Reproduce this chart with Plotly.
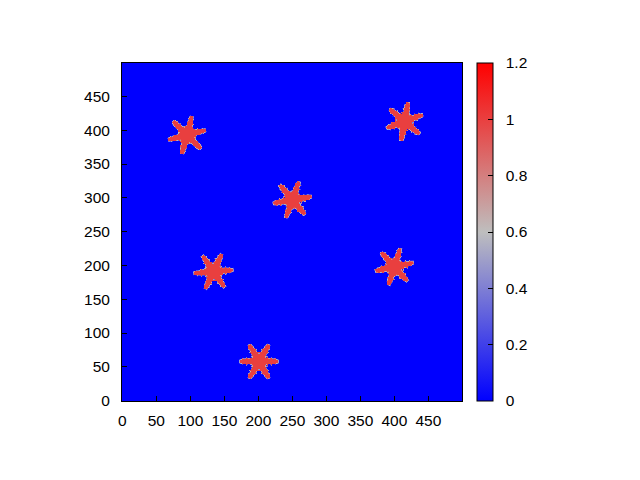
import numpy as np
import plotly.graph_objects as go

# Snowflake (dendrite) centres in data coordinates, their rotation (deg) and arm length
centre_x = [95, 415, 250, 134, 400, 201]
centre_y = [393, 413, 297, 191, 198, 58]
rotation_deg = [75, 80, 70, 65, 72, 60]
arm_length = [29, 29, 29, 29, 29, 29]
grid_size = 500
solid_value = 1.0
cbar_ticks = [0, 0.2, 0.4, 0.6, 0.8, 1.0, 1.2]
cbar_labels = ["0", "0.2", "0.4", "0.6", "0.8", "1", "1.2"]
axis_ticks = list(range(0, 500, 50))

xs = np.arange(grid_size)
ys = np.arange(grid_size)
X, Y = np.meshgrid(xs, ys)
Z = np.zeros((grid_size, grid_size))

sector = np.pi / 3
for cx, cy, rot, L in zip(centre_x, centre_y, rotation_deg, arm_length):
    dx = X - cx
    dy = Y - cy
    r = np.hypot(dx, dy)
    th = np.arctan2(dy, dx) - np.radians(rot)
    phi = np.mod(th, sector)
    dang = np.minimum(phi, sector - phi)
    perp = r * np.sin(dang)
    along = r * np.cos(dang)
    frac = np.clip(along / L, 0, 1)
    branch = np.maximum(0, np.cos(along * 2 * np.pi / 6.0)) ** 2
    w = 4.6 * (1 - 0.45 * frac ** 3) + 3.4 * branch * (1 - 0.8 * frac) * (along > 9)
    arm = np.clip((w - perp) * 0.7 + 0.5, 0, 1) * np.clip((L - along) * 0.7 + 0.5, 0, 1)
    core = np.clip((12 - r) * 0.7 + 0.5, 0, 1)
    val = np.maximum(arm, core) * solid_value
    Z = np.maximum(Z, val)

Z = np.round(Z, 2)

colorscale = [[0.0, "#0000ff"], [0.5, "#bebebe"], [1.0, "#ff0000"]]
font = dict(family="Liberation Sans, Arial", size=15.5, color="black")

fig = go.Figure(go.Heatmap(
    z=Z, x=xs, y=ys, zmin=0, zmax=1.2, zsmooth=False,
    colorscale=colorscale,
    colorbar=dict(
        x=1.044, xanchor="left", xpad=0, ypad=0,
        y=0, yanchor="bottom", len=1, lenmode="fraction",
        thickness=16, outlinecolor="black", outlinewidth=1,
        tickvals=cbar_ticks, ticktext=["\u00a0\u00a0" + t for t in cbar_labels],
        ticks="inside", ticklen=5, tickcolor="black",
        tickfont=font,
    ),
    hoverinfo="skip",
))

axis_common = dict(
    showgrid=False, zeroline=False, showline=True, linecolor="black", linewidth=1,
    mirror=True, ticks="inside", ticklen=5, tickcolor="black",
    tickvals=axis_ticks, tickfont=font,
)
fig.update_xaxes(range=[-0.5, 499.5], ticklabelstandoff=5, **axis_common)
fig.update_yaxes(range=[-0.5, 499.5], ticklabelstandoff=8, **axis_common)

fig.update_layout(
    width=640, height=480,
    margin=dict(l=114, r=186, t=55, b=87),
    paper_bgcolor="white", plot_bgcolor="white",
    font=font,
)

fig.write_html("out.html")
